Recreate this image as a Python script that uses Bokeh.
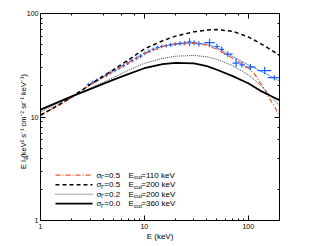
import numpy as np
from bokeh.plotting import figure
from bokeh.models import LogAxis, Label, Range1d, BasicTickFormatter, Title
from bokeh.embed import file_html
from bokeh.resources import INLINE

# ---------------- data ----------------
e_grid = [1, 1.5, 2, 3, 5, 7, 10, 15, 20, 30, 40, 50, 70, 100, 130, 160, 200]
f_s00_e360 = [11.8, 14.0, 15.8, 18.6, 22.8, 26.0, 29.6, 32.4, 33.4, 33.0, 31.0, 28.6, 25.0, 21.2, 18.0, 16.2, 14.5]
f_s02_e200 = [11.2, 13.5, 15.5, 18.9, 24.0, 28.2, 33.0, 36.8, 38.7, 39.3, 38.2, 36.0, 31.5, 25.6, 20.5, 16.5, 12.8]
f_s05_e200 = [10.4, 13.1, 15.6, 20.6, 28.5, 35.5, 45.5, 54.5, 60.5, 66.5, 69.2, 70.0, 67.5, 59.5, 51.5, 45.5, 39.5]

e_red = [1, 1.5, 2, 3, 5, 7, 10, 15, 20, 30, 40, 50, 63, 80, 100, 115, 130, 145, 160, 180, 200]
f_s05_e110 = [10.4, 13.0, 15.4, 20.5, 27.5, 33.5, 41.0, 48.0, 51.0, 51.8, 49.5, 45.0, 39.5, 34.5, 29.8, 26.0, 21.5, 18.3, 15.1, 12.6, 10.0]

# blue fitted line
e_fit = [20, 30, 40, 50, 63, 80, 100, 144, 200]
f_fit = [50.5, 52.0, 50.5, 47.0, 40.8, 36.0, 31.9, 26.6, 22.2]

# blue data, low energies (small error bars)
e_lo = [2.9, 3.2, 3.5, 3.9, 4.3, 4.7, 5.2, 5.7, 6.3, 6.9, 7.6, 8.4, 9.2, 10.1, 11.1, 12.2, 13.4, 14.7]
f_lo = [20.6, 21.6, 22.6, 24.2, 25.2, 26.8, 28.2, 29.8, 31.4, 33.2, 35.0, 37.0, 38.8, 41.2, 43.2, 45.0, 46.8, 48.0]

# blue data, high energies (value, bin edges, error bounds)
e_hi = [16.2, 17.9, 19.8, 22.0, 24.5, 27.2, 30.1, 33.5, 42.4, 50.0, 55.5, 63.5, 76.5, 87.1, 105, 144, 178]
e_hi_lo = [15.4, 17.0, 18.8, 20.8, 23.2, 25.8, 28.6, 31.8, 37.9, 47.6, 53.0, 58.5, 70.6, 82.5, 93, 123, 154]
e_hi_hi = [17.0, 18.8, 20.8, 23.2, 25.8, 28.6, 31.8, 35.5, 47.6, 53.0, 58.5, 70.6, 82.5, 93.0, 118, 167, 200]
f_hi = [48.8, 49.8, 50.6, 51.5, 51.8, 53.0, 52.4, 51.0, 52.2, 48.0, 45.0, 40.5, 33.1, 31.9, 30.3, 28.1, 24.0]
f_hi_lo = [47.0, 47.8, 48.5, 49.2, 49.4, 48.5, 49.5, 48.0, 47.5, 45.0, 42.0, 38.0, 30.4, 30.0, 28.3, 26.0, 22.5]
f_hi_hi = [50.6, 51.8, 52.7, 53.8, 54.2, 57.5, 55.3, 54.0, 57.0, 51.0, 48.0, 43.0, 36.5, 34.0, 32.5, 30.5, 25.5]

# ---------------- figure ----------------
FONT = "Liberation Sans"
W, H = 334, 246
X0, X1, Y0, Y1 = 1, 200, 1, 100
FL, FR, FT, FB = 40, 279, 13, 220   # frame edges in page pixels

p = figure(width=W, height=H, x_axis_type="log", y_axis_type="log",
           x_range=Range1d(X0, X1), y_range=Range1d(Y0, Y1),
           output_backend="svg", toolbar_location=None,
           min_border_left=FL, min_border_right=W - FR,
           min_border_top=FT, min_border_bottom=H - FB)
p.xgrid.visible = False
p.ygrid.visible = False
p.background_fill_color = "white"
p.border_fill_color = "white"
p.outline_line_color = "black"
p.outline_line_width = 1


def style_axis(ax, labels=True):
    ax.major_tick_in = 5
    ax.major_tick_out = 0
    ax.minor_tick_in = 2
    ax.minor_tick_out = 0
    ax.axis_line_color = "black"
    ax.major_tick_line_color = "black"
    ax.minor_tick_line_color = "black"
    ax.major_label_text_font = FONT
    if labels:
        ax.major_label_text_font_size = "7px"
        ax.major_label_text_color = "black"
    else:
        ax.major_label_text_font_size = "1px"
        ax.major_label_text_color = None
        ax.major_label_standoff = 0


for ax in p.xaxis + p.yaxis:
    style_axis(ax)
    ax.formatter = BasicTickFormatter()
p.xaxis.major_label_standoff = 3
p.yaxis.major_label_standoff = 2

# x title
p.xaxis.axis_label = "E (keV)"
p.xaxis.axis_label_text_font = FONT
p.xaxis.axis_label_text_font_size = "8px"
p.xaxis.axis_label_text_font_style = "normal"
p.xaxis.axis_label_text_color = "black"
p.xaxis.axis_label_standoff = 0

top = LogAxis()
style_axis(top, labels=False)
p.add_layout(top, "above")
right = LogAxis()
style_axis(right, labels=False)
p.add_layout(right, "right")

# y title: main text plus subscript, as two titles on the left
YT_START = 168.5           # page y where the title text starts (bottom)
MAIN_PX = 7.5
sub_title = Title(text="E", align="left", offset=FB - (YT_START - 1.223 * MAIN_PX),
                  text_font=FONT, text_font_size="5.5px", text_font_style="normal",
                  text_color="black", standoff=-10)
p.add_layout(sub_title, "left")
main_title = Title(text="E I   (keV² s⁻¹ cm⁻² sr⁻¹ keV⁻¹)", align="left", offset=FB - YT_START,
                   text_font=FONT, text_font_size=f"{MAIN_PX}px", text_font_style="normal",
                   text_color="black", standoff=-8)
p.add_layout(main_title, "left")

LX = np.log10(X1 / X0) / (FR - FL)
LY = np.log10(Y1 / Y0) / (FB - FT)


def xd(px):
    return X0 * 10 ** ((px - FL) * LX)


def yd(py):
    return Y0 * 10 ** ((FB - py) * LY)


# ---------------- blue data ----------------
BLUE = "#1f5fff"
p.line(e_fit, f_fit, line_color="#6f9bff", line_width=1)
lo_w = 0.04
p.segment(x0=[e * (1 - lo_w) for e in e_lo], x1=[e * (1 + lo_w) for e in e_lo],
          y0=f_lo, y1=f_lo, line_color=BLUE, line_width=1.2)
p.segment(x0=e_lo, x1=e_lo, y0=[f * 0.96 for f in f_lo], y1=[f * 1.04 for f in f_lo],
          line_color=BLUE, line_width=1.2)
p.segment(x0=e_hi_lo, x1=e_hi_hi, y0=f_hi, y1=f_hi, line_color=BLUE, line_width=1.2)
p.segment(x0=e_hi, x1=e_hi, y0=f_hi_lo, y1=f_hi_hi, line_color=BLUE, line_width=1.2)

# ---------------- model curves ----------------
RED = "#f0562a"
styles = [
    (e_red, f_s05_e110, dict(line_color=RED, line_width=1.2, line_dash="5 2 1 2")),
    (e_grid, f_s05_e200, dict(line_color="black", line_width=1.5, line_dash="4 3")),
    (e_grid, f_s02_e200, dict(line_color="#444444", line_width=1, line_dash="1 1")),
    (e_grid, f_s00_e360, dict(line_color="black", line_width=1.8)),
]
legend_sig = ["0.5", "0.5", "0.2", "0.0"]
legend_cut = ["110", "200", "200", "360"]
row_y = [174.7, 184.2, 193.7, 203.2]

lab = dict(text_font=FONT, text_color="black", text_baseline="middle", text_align="left")
for (ex, fy, kw), sg, ct, ry in zip(styles, legend_sig, legend_cut, row_y):
    p.line(ex, fy, **kw)
    p.line([xd(55), xd(92)], [yd(ry), yd(ry)], **kw)
    p.add_layout(Label(x=xd(96), y=yd(ry), text="σ", text_font_size="8px", **lab))
    p.add_layout(Label(x=xd(100.6), y=yd(ry + 2), text="Γ", text_font_size="6px", **lab))
    p.add_layout(Label(x=xd(103.8), y=yd(ry), text="=" + sg, text_font_size="8px", **lab))
    p.add_layout(Label(x=xd(128), y=yd(ry), text="E", text_font_size="8px", **lab))
    p.add_layout(Label(x=xd(133.4), y=yd(ry + 2), text="cut", text_font_size="6px", **lab))
    p.add_layout(Label(x=xd(140.8), y=yd(ry), text="=" + ct + " keV", text_font_size="8px", **lab))

open("out.html", "w").write(file_html(p, INLINE))
